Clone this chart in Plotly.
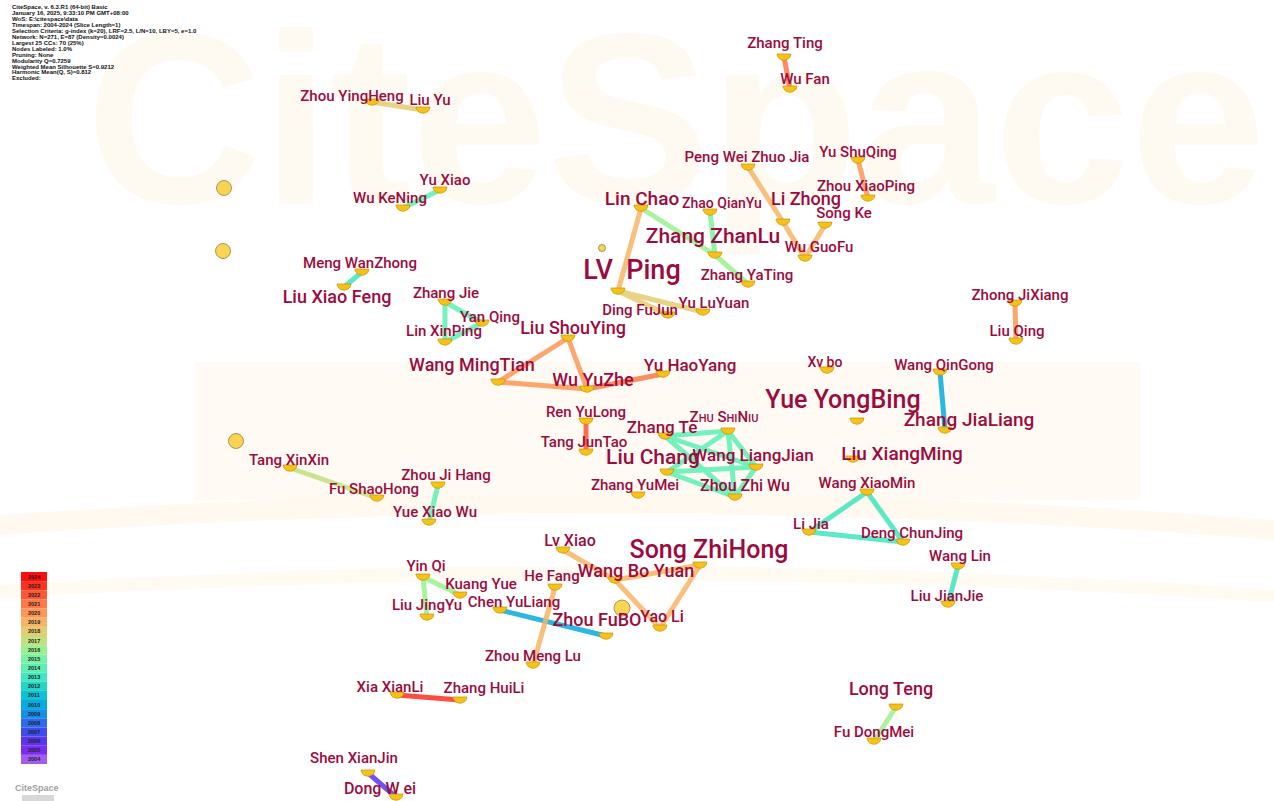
import math
import plotly.graph_objects as go

# ---------------- data ----------------
names = [
    "Zhang Ting", "Wu Fan", "Zhou YingHeng", "Liu Yu", "Yu Xiao", "Wu KeNing",
    "Meng WanZhong", "Liu Xiao Feng", "Zhang Jie", "Yan Qing", "Lin XinPing",
    "Liu ShouYing", "Wang MingTian", "Wu YuZhe", "Yu HaoYang", "LV  Ping",
    "Lin Chao", "Zhao QianYu", "Zhang ZhanLu", "Zhang YaTing", "Ding FuJun",
    "Yu LuYuan", "Peng Wei Zhuo Jia", "Li Zhong", "Song Ke", "Wu GuoFu",
    "Yu ShuQing", "Zhou XiaoPing", "Zhong JiXiang", "Liu Qing", "Xv bo",
    "Wang QinGong", "Zhang JiaLiang", "Yue YongBing", "Liu XiangMing",
    "Wang XiaoMin", "Li Jia", "Deng ChunJing", "Wang Lin", "Liu JianJie",
    "Long Teng", "Fu DongMei", "Ren YuLong", "Tang JunTao", "Zhang Te",
    "Zhu ShiNiu", "Liu Chang", "Wang LiangJian", "Zhou Zhi Wu", "Zhang YuMei",
    "Tang XinXin", "Fu ShaoHong", "Zhou Ji Hang", "Yue Xiao Wu", "Song ZhiHong",
    "Lv Xiao", "Wang Bo Yuan", "He Fang", "Yin Qi", "Kuang Yue", "Liu JingYu",
    "Chen YuLiang", "Zhou FuBO", "Yao Li", "Zhou Meng Lu", "Xia XianLi",
    "Zhang HuiLi", "Shen XianJin", "Dong W ei",
]
node_x = [784, 790, 372, 423, 440, 403, 362, 344, 445, 482, 445, 568, 498, 587,
          663, 618, 641, 710, 715, 748, 668, 703, 748, 783, 825, 805, 858, 868,
          1015, 1016, 827, 940, 945, 857, 853, 867, 809, 903, 958, 948, 896,
          874, 586, 586, 665, 728, 667, 756, 735, 638, 290, 377, 438, 429, 700,
          563, 615, 555, 423, 460, 427, 500, 606, 660, 533, 397, 460, 368, 396]
node_y = [57, 89, 102, 110, 190, 208, 272, 287, 302, 323, 342, 338, 382, 389,
          374, 291, 208, 212, 255, 284, 315, 312, 167, 222, 225, 258, 160, 198,
          303, 341, 370, 372, 430, 421, 459, 492, 532, 542, 566, 604, 707, 741,
          421, 452, 436, 431, 472, 467, 497, 495, 468, 498, 485, 522, 565, 550,
          580, 587, 577, 595, 617, 610, 636, 628, 665, 695, 700, 773, 797]

# unlabeled nodes
free_x = [224, 223, 236, 622, 602]
free_y = [188, 251, 441, 608, 248]

# co-authorship links and year of first collaboration
edge_a = ["Zhang Ting", "Zhou YingHeng", "Wu KeNing", "Meng WanZhong",
          "Zhang Jie", "Zhang Jie", "Lin XinPing", "Liu ShouYing", "Liu ShouYing",
          "Wang MingTian", "Wu YuZhe", "Lin Chao", "Lin Chao", "Zhao QianYu",
          "Zhang ZhanLu", "LV  Ping", "LV  Ping", "Peng Wei Zhuo Jia", "Li Zhong",
          "Song Ke", "Yu ShuQing", "Zhong JiXiang", "Wang QinGong",
          "Wang XiaoMin", "Wang XiaoMin", "Li Jia", "Wang Lin", "Long Teng",
          "Ren YuLong", "Zhang Te", "Zhang Te", "Zhang Te", "Zhu ShiNiu",
          "Zhu ShiNiu", "Zhu ShiNiu", "Liu Chang", "Liu Chang", "Wang LiangJian",
          "Tang XinXin", "Zhou Ji Hang", "Yin Qi", "Yin Qi", "Chen YuLiang",
          "He Fang", "Lv Xiao", "Wang Bo Yuan", "Song ZhiHong", "Song ZhiHong",
          "Xia XianLi", "Shen XianJin"]
edge_b = ["Wu Fan", "Liu Yu", "Yu Xiao", "Liu Xiao Feng",
          "Lin XinPing", "Yan Qing", "Yan Qing", "Wang MingTian", "Wu YuZhe",
          "Wu YuZhe", "Yu HaoYang", "LV  Ping", "Zhang ZhanLu", "Zhang ZhanLu",
          "Zhang YaTing", "Yu LuYuan", "Ding FuJun", "Li Zhong", "Wu GuoFu",
          "Wu GuoFu", "Zhou XiaoPing", "Liu Qing", "Zhang JiaLiang",
          "Li Jia", "Deng ChunJing", "Deng ChunJing", "Liu JianJie", "Fu DongMei",
          "Tang JunTao", "Zhu ShiNiu", "Wang LiangJian", "Zhou Zhi Wu", "Liu Chang",
          "Wang LiangJian", "Zhou Zhi Wu", "Zhou Zhi Wu", "Wang LiangJian",
          "Zhou Zhi Wu", "Fu ShaoHong", "Yue Xiao Wu", "Kuang Yue", "Liu JingYu",
          "Zhou FuBO", "Zhou Meng Lu", "Wang Bo Yuan", "Yao Li", "Yao Li",
          "Wang Bo Yuan", "Zhang HuiLi", "Dong W ei"]
edge_year = [2021, 2018, 2014, 2013,
             2014, 2014, 2014, 2020, 2020,
             2020, 2021, 2019, 2016, 2015,
             2016, 2018, 2018, 2019, 2019,
             2019, 2020, 2020, 2010,
             2013, 2013, 2013, 2013, 2016,
             2022, 2014, 2014, 2014, 2014,
             2014, 2014, 2014, 2014, 2014,
             2017, 2014, 2016, 2016, 2010,
             2019, 2019, 2019, 2019, 2019,
             2023, 2006]

years = list(range(2004, 2025))
year_colors = ["#a45cf0", "#7a2cf0", "#5a34f0", "#3c4cf0", "#2a6cf0", "#1490e8",
               "#06acdf", "#0cc2d6", "#22d6c6", "#40e6be", "#5ef0b2", "#7af2a2",
               "#9cf090", "#c4e07e", "#e4cc72", "#f8b466", "#ff9656", "#ff7848",
               "#ff5636", "#ff3020", "#ff0c0c"]

info_lines = [
    "CiteSpace, v. 6.3.R1 (64-bit) Basic",
    "January 16, 2025, 9:33:10 PM GMT+08:00",
    "WoS: E:\\citespace\\data",
    "Timespan: 2004-2024 (Slice Length=1)",
    "Selection Criteria: g-index (k=20), LRF=2.5, L/N=10, LBY=5, e=1.0",
    "Network: N=271, E=87 (Density=0.0024)",
    "Largest 25 CCs: 70 (25%)",
    "Nodes Labeled: 1.0%",
    "Pruning: None",
    "Modularity Q=0.7259",
    "Weighted Mean Silhouette S=0.9212",
    "Harmonic Mean(Q, S)=0.812",
    "Excluded:",
]

# ---------------- label layout ----------------
label_dx = [1, 15, -20, 7, 5, -13, -2, -7, 1, 8, -1, 5, -26, 6, 27, 14, 1, 12,
            -2, -1, -28, 11, -1, 23, 19, 14, 0, -2, 5, 1, -2, 4, 24, -14, 49,
            0, 2, 9, 2, -1, -5, 0, 0, -2, -3, -4, -14, -3, 10, -3, -1, -3,
            8, 6, 9, 7, 21, -3, 3, 21, 0, 14, -9, 2, 0, -7, 24, -14, -16]
label_dy = [-13, -9, -5, -9, -9, -9, -8, 11, -8, -5, -10, -9, -16, -8, -7, -19,
            -8, -8, -17, -8, -4, -8, -9, -22, -11, -10, -7, -11, -7, -9, -7,
            -6, -9, -19, -4, -8, -7, -8, -9, -7, -17, -8, -8, -9, -7, -13, -13,
            -10, -10, -9, -7, -8, -9, -9, -13, -8, -8, -10, -10, -10, -11, -7,
            -15, -10, -8, -7, -11, -14, -7]
label_size = [15, 15, 15, 15, 15, 15, 15, 18, 15, 15, 15, 18, 18, 18, 17, 27,
              19, 14, 21, 15, 15, 15, 15, 18, 15, 15, 15, 15, 15, 15, 14, 15,
              19, 25, 19, 15, 15, 15, 15, 15, 18, 15, 15, 15, 17, 15, 21, 17,
              16, 15, 15, 15, 15, 15, 25, 16, 18, 15, 15, 15, 15, 15, 18, 16,
              15, 15, 15, 15, 16]

display = {"Zhu ShiNiu": "Z<span style='font-size:11px'>HU</span> "
                         "S<span style='font-size:11px'>HI</span>"
                         "N<span style='font-size:11px'>IU</span>"}

W, H = 1274, 801
LABEL_COLOR = "#9c0b3e"
NODE_COLOR = "#f6c21a"
FONT = "Roboto, Liberation Sans, Arial, sans-serif"

idx = {n: i for i, n in enumerate(names)}
fig = go.Figure()

# faint background watermark (first trace, so it sits beneath everything)
fig.add_trace(go.Scatter(x=[676], y=[142], mode="text", text=["<b>CiteSpace</b>"],
                         textposition="middle center",
                         textfont=dict(size=244, color="#fefaf2",
                                       family="Liberation Sans, Arial"),
                         hoverinfo="skip", showlegend=False))

# edges grouped by year
for yr, col in zip(years, year_colors):
    xs, ys = [], []
    for a, b, y in zip(edge_a, edge_b, edge_year):
        if y == yr:
            ia, ib = idx[a], idx[b]
            xs += [node_x[ia], node_x[ib], None]
            ys += [node_y[ia], node_y[ib], None]
    if xs:
        fig.add_trace(go.Scatter(x=xs, y=ys, mode="lines",
                                 line=dict(color=col, width=5),
                                 opacity=0.85, hoverinfo="skip",
                                 showlegend=False))

# unlabeled (full-circle) nodes
fig.add_trace(go.Scatter(
    x=free_x, y=free_y, mode="markers",
    marker=dict(size=[15, 15, 15, 16, 7], color="#f7c20e",
                line=dict(color="#6a5000", width=0.8)),
    hoverinfo="skip", showlegend=False))

# labeled nodes: half discs below each label (polygons from node arrays)
R = 7
hx, hy = [], []
for x, y in zip(node_x, node_y):
    t = y - 3
    for k in range(13):
        a = math.pi * k / 12
        hx.append(x + R * math.cos(a))
        hy.append(t + 0.9 * R * math.sin(a))
    hx.append(x + R)
    hy.append(t)
    hx.append(None)
    hy.append(None)
fig.add_trace(go.Scatter(x=hx, y=hy, mode="lines", fill="toself",
                         fillcolor=NODE_COLOR,
                         line=dict(color="#c29400", width=0.7),
                         hoverinfo="skip", showlegend=False))

# labels
for i, n in enumerate(names):
    fig.add_trace(go.Scatter(
        x=[node_x[i] + label_dx[i]], y=[node_y[i] + label_dy[i]],
        mode="text", text=[display.get(n, n)],
        textposition="middle center",
        textfont=dict(size=label_size[i], color=LABEL_COLOR, family=FONT,
                      weight=500),
        hoverinfo="skip", showlegend=False))

shapes = []
annotations = []

# faint background bands
shapes.append(dict(type="rect", x0=195, y0=362, x1=1140, y1=500, xref="x", yref="y",
                   fillcolor="#fffbf4", line=dict(width=0), layer="below"))
shapes.append(dict(type="path", xref="x", yref="y", layer="below",
                   path="M 0 515 Q 640 470 1274 520 L 1274 540 Q 640 490 0 535 Z",
                   fillcolor="#fff9f0", line=dict(width=0)))
shapes.append(dict(type="path", xref="x", yref="y", layer="below",
                   path="M 0 585 Q 640 545 1274 590 L 1274 602 Q 640 560 0 598 Z",
                   fillcolor="#fffaf2", line=dict(width=0)))

# info text
for k, line in enumerate(info_lines):
    annotations.append(dict(x=10, y=7 + k * 5.95, xref="x", yref="y",
                            text="<b>" + line + "</b>", showarrow=False,
                            xanchor="left", yanchor="middle",
                            font=dict(size=6, color="#111111",
                                      family="Liberation Sans, Arial")))

# year legend
top, bottom = 572, 764
h = (bottom - top) / len(years)
for k, (yr, col) in enumerate(zip(reversed(years), reversed(year_colors))):
    y0 = top + k * h
    shapes.append(dict(type="rect", x0=21, x1=47, y0=y0, y1=y0 + h,
                       xref="x", yref="y", fillcolor=col, line=dict(width=0)))
    annotations.append(dict(x=34, y=y0 + h / 2, xref="x", yref="y",
                            text="<b>%d</b>" % yr, showarrow=False,
                            font=dict(size=5.5, color="#222222",
                                      family="Liberation Sans, Arial")))

# logo
annotations.append(dict(x=37, y=788, xref="x", yref="y", text="<b>CiteSpace</b>",
                        showarrow=False,
                        font=dict(size=9, color="#a0a0a0",
                                  family="Liberation Sans, Arial")))
shapes.append(dict(type="rect", x0=22, x1=54, y0=795, y1=801, xref="x", yref="y",
                   fillcolor="#d8d8d8", line=dict(width=0)))

fig.update_layout(
    width=W, height=H, margin=dict(l=0, r=0, t=0, b=0),
    paper_bgcolor="white", plot_bgcolor="white",
    xaxis=dict(range=[0, W], visible=False, fixedrange=True),
    yaxis=dict(range=[H, 0], visible=False, fixedrange=True),
    shapes=shapes, annotations=annotations, showlegend=False,
)

fig.write_html("out.html", config={"displayModeBar": False},
               post_script="document.body.style.margin='0';")
